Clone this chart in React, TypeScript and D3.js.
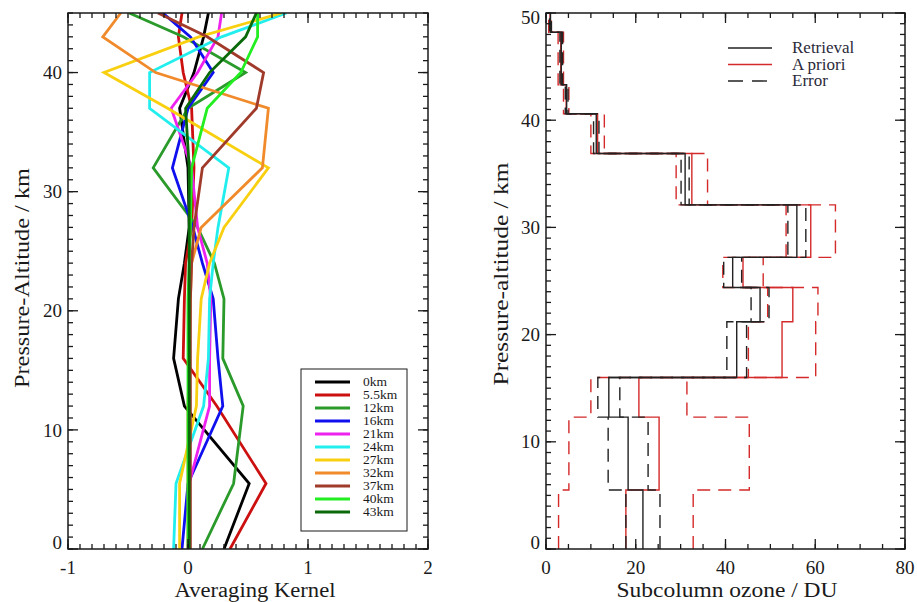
import React from "react";
import * as d3 from "d3";

// ---------- Left panel: averaging kernels ----------
const akLevels = [0, 5.5, 12, 16, 21, 24, 27, 32, 37, 40, 43, 45];
const ak0km = [0.30, 0.51, -0.03, -0.12, -0.08, -0.03, 0.01, 0.0, -0.07, 0.05, 0.13, 0.17];
const ak5km = [0.35, 0.65, 0.24, -0.04, -0.03, -0.02, 0.03, 0.05, 0.03, -0.04, -0.08, -0.05];
const ak12km = [0.12, 0.38, 0.46, 0.29, 0.30, 0.22, 0.08, -0.29, 0.0, 0.48, -0.04, -0.49];
const ak16km = [-0.05, 0.0, 0.29, 0.25, 0.21, 0.12, 0.04, -0.13, 0.0, 0.21, 0.02, -0.21];
const ak21km = [0.0, 0.01, 0.18, 0.18, 0.19, 0.16, 0.08, 0.03, -0.14, 0.08, 0.25, 0.28];
const ak24km = [-0.12, -0.10, 0.13, 0.17, 0.18, 0.21, 0.25, 0.34, -0.32, -0.32, 0.28, 0.82];
const ak27km = [-0.07, -0.07, 0.07, 0.08, 0.11, 0.18, 0.30, 0.67, -0.17, -0.70, 0.09, 0.78];
const ak32km = [0.0, 0.0, 0.0, 0.01, 0.02, 0.03, 0.11, 0.62, 0.67, -0.27, -0.71, -0.56];
const ak37km = [0.02, 0.02, 0.02, 0.02, 0.02, 0.03, 0.05, 0.12, 0.57, 0.63, 0.16, -0.25];
const ak40km = [0.0, 0.0, 0.0, 0.0, 0.0, 0.01, 0.02, 0.03, 0.16, 0.44, 0.58, 0.58];
const ak43km = [0.01, 0.01, 0.01, 0.01, 0.01, 0.01, 0.01, 0.01, -0.02, 0.18, 0.48, 0.57];

const akNames = ["0km", "5.5km", "12km", "16km", "21km", "24km", "27km", "32km", "37km", "40km", "43km"];
const akColors = ["#000000", "#cc1010", "#2a9a2a", "#1010ee", "#ee22ee", "#22eeee", "#f8d010", "#f08a2a", "#a03a2a", "#22ee22", "#0a6a0a"];
const akValues = [ak0km, ak5km, ak12km, ak16km, ak21km, ak24km, ak27km, ak32km, ak37km, ak40km, ak43km];

const akXTicks = [-1, 0, 1, 2];
const akYTicks = [0, 10, 20, 30, 40];

// ---------- Right panel: subcolumn ozone ----------
const layerEdges = [0, 5.5, 12.3, 16.0, 21.2, 24.4, 27.2, 32.1, 36.9, 40.6, 43.3, 48.2, 52];
const retrieval = [21.6, 18.3, 14.0, 42.5, 47.7, 41.6, 55.9, 31.0, 11.2, 4.6, 3.4, 1.0];
const apriori = [17.8, 25.2, 20.7, 52.6, 55.0, 43.9, 59.0, 32.5, 11.5, 4.5, 3.3, 0.9];
const retrievalErr = [3.8, 4.45, 2.45, 2.2, 2.0, 2.0, 2.0, 0.9, 0.6, 0.3, 0.3, 0.2];
const aprioriErr = [15.0, 20.1, 10.7, 7.5, 5.6, 4.5, 5.5, 3.5, 1.5, 0.6, 0.6, 0.3];

const ozXTicks = [0, 20, 40, 60, 80];
const ozYTicks = [0, 10, 20, 30, 40, 50];

const FONT = "'Liberation Serif', 'Times New Roman', serif";
const AX = "#1a1a1a";

const L = { x0: 68, x1: 428, y0: 13, y1: 549 };
const R = { x0: 546, x1: 905, y0: 13, y1: 549 };

export default function App() {
  const xL = d3.scaleLinear().domain([-1, 2]).range([L.x0, L.x1]);
  const yL = d3.scaleLinear().domain([0, 45]).range([L.y1, L.y0]);
  const xR = d3.scaleLinear().domain([0, 80]).range([R.x0, R.x1]);
  const yR = d3.scaleLinear().domain([0, 50]).range([R.y1, R.y0]);

  const akLine = d3
    .line<[number, number]>()
    .x((d) => xL(d[0]))
    .y((d) => yL(d[1]));

  const stepLine = d3
    .line<[number, number]>()
    .x((d) => xR(d[0]))
    .y((d) => yR(d[1]));

  const stepPts = (vals: number[]): [number, number][] => {
    const pts: [number, number][] = [];
    vals.forEach((v, i) => {
      pts.push([v, layerEdges[i]]);
      pts.push([v, layerEdges[i + 1]]);
    });
    return pts;
  };

  const retLo = retrieval.map((v, i) => v - retrievalErr[i]);
  const retHi = retrieval.map((v, i) => v + retrievalErr[i]);
  const apLo = apriori.map((v, i) => v - aprioriErr[i]);
  const apHi = apriori.map((v, i) => v + aprioriErr[i]);

  const lMinorX = d3.range(-10, 21).map((i) => i / 10);
  const lMinorY = d3.range(0, 46);
  const rMinorX = d3.range(0, 81, 5);
  const rMinorY = d3.range(0, 51);

  const frame = (P: typeof L) => (
    <rect x={P.x0} y={P.y0} width={P.x1 - P.x0} height={P.y1 - P.y0} fill="none" stroke={AX} strokeWidth={1.5} />
  );

  const xTickMarks = (vals: number[], sx: (v: number) => number, P: typeof L, len: number, key: string) =>
    vals.map((v, i) => (
      <g key={key + i}>
        <line x1={sx(v)} x2={sx(v)} y1={P.y1} y2={P.y1 - len} stroke={AX} strokeWidth={1.3} />
        <line x1={sx(v)} x2={sx(v)} y1={P.y0} y2={P.y0 + len} stroke={AX} strokeWidth={1.3} />
      </g>
    ));
  const yTickMarks = (vals: number[], sy: (v: number) => number, P: typeof L, len: number, key: string) =>
    vals.map((v, i) => (
      <g key={key + i}>
        <line x1={P.x0} x2={P.x0 + len} y1={sy(v)} y2={sy(v)} stroke={AX} strokeWidth={1.3} />
        <line x1={P.x1} x2={P.x1 - len} y1={sy(v)} y2={sy(v)} stroke={AX} strokeWidth={1.3} />
      </g>
    ));

  const legendRowY = (i: number) => 382 + i * 13;

  return (
    <svg width={917} height={602} style={{ position: "absolute", left: 0, top: 0, background: "#fff" }} fontFamily={FONT}>
      <defs>
        <clipPath id="clipL">
          <rect x={L.x0} y={L.y0} width={L.x1 - L.x0} height={L.y1 - L.y0} />
        </clipPath>
        <clipPath id="clipR">
          <rect x={R.x0} y={R.y0} width={R.x1 - R.x0} height={R.y1 - R.y0} />
        </clipPath>
      </defs>
      <rect x={0} y={0} width={917} height={602} fill="#fff" />

      {/* ---------- LEFT PANEL ---------- */}
      <g clipPath="url(#clipL)">
        {akValues.map((vals, si) => (
          <path
            key={akNames[si]}
            d={akLine(vals.map((v, i) => [v, akLevels[i]] as [number, number])) || ""}
            fill="none"
            stroke={akColors[si]}
            strokeWidth={2.8}
            strokeLinejoin="miter"
          />
        ))}
      </g>
      {frame(L)}
      {xTickMarks(lMinorX, xL, L, 5, "lmx")}
      {xTickMarks(akXTicks, xL, L, 10, "lMx")}
      {yTickMarks(lMinorY, yL, L, 5, "lmy")}
      {yTickMarks(akYTicks, yL, L, 10, "lMy")}
      {akXTicks.map((v) => (
        <text key={"lxl" + v} x={xL(v)} y={574} textAnchor="middle" fontSize={19} fill={AX}>
          {v}
        </text>
      ))}
      {akYTicks.map((v) => (
        <text key={"lyl" + v} x={62} y={yL(v) + (v === 0 ? -7 : 0)} dy="0.35em" textAnchor="end" fontSize={19} fill={AX}>
          {v}
        </text>
      ))}
      <text x={(L.x0 + L.x1) / 2 + 7} y={597} textAnchor="middle" fontSize={20} fill={AX} textLength={161} lengthAdjust="spacingAndGlyphs">
        Averaging Kernel
      </text>
      <text
        transform={`translate(29,278) rotate(-90)`}
        textAnchor="middle"
        fontSize={20}
        fill={AX}
        textLength={220}
        lengthAdjust="spacingAndGlyphs"
      >
        Pressure-Altitude / km
      </text>

      {/* legend */}
      <rect x={301} y={369} width={106} height={162} fill="#fff" stroke={AX} strokeWidth={1} />
      {akNames.map((n, i) => (
        <g key={"lg" + n}>
          <line x1={315} x2={350} y1={legendRowY(i)} y2={legendRowY(i)} stroke={akColors[i]} strokeWidth={3} />
          <text x={363} y={legendRowY(i)} dy="0.33em" fontSize={13.5} fill={AX}>
            {n}
          </text>
        </g>
      ))}

      {/* ---------- RIGHT PANEL ---------- */}
      <g clipPath="url(#clipR)" fill="none">
        <path d={stepLine(stepPts(apLo)) || ""} stroke="#d42a2a" strokeWidth={1.4} strokeDasharray="13,8" />
        <path d={stepLine(stepPts(apHi)) || ""} stroke="#d42a2a" strokeWidth={1.4} strokeDasharray="13,8" />
        <path d={stepLine(stepPts(apriori)) || ""} stroke="#d42a2a" strokeWidth={1.4} />
        <path d={stepLine(stepPts(retLo)) || ""} stroke="#222" strokeWidth={1.4} strokeDasharray="13,8" />
        <path d={stepLine(stepPts(retHi)) || ""} stroke="#222" strokeWidth={1.4} strokeDasharray="13,8" />
        <path d={stepLine(stepPts(retrieval)) || ""} stroke="#222" strokeWidth={1.4} />
      </g>
      {frame(R)}
      {xTickMarks(rMinorX, xR, R, 5, "rmx")}
      {xTickMarks(ozXTicks, xR, R, 10, "rMx")}
      {yTickMarks(rMinorY, yR, R, 5, "rmy")}
      {yTickMarks(ozYTicks, yR, R, 10, "rMy")}
      {ozXTicks.map((v) => (
        <text key={"rxl" + v} x={xR(v)} y={574} textAnchor="middle" fontSize={19} fill={AX}>
          {v}
        </text>
      ))}
      {ozYTicks.map((v) => (
        <text
          key={"ryl" + v}
          x={540}
          y={yR(v) + (v === 0 ? -7 : v === 50 ? 4 : 0)}
          dy="0.35em"
          textAnchor="end"
          fontSize={19}
          fill={AX}
        >
          {v}
        </text>
      ))}
      <text x={727} y={597} textAnchor="middle" fontSize={20} fill={AX} textLength={221} lengthAdjust="spacingAndGlyphs">
        Subcolumn ozone / DU
      </text>
      <text
        transform={`translate(508,274) rotate(-90)`}
        textAnchor="middle"
        fontSize={20}
        fill={AX}
        textLength={223}
        lengthAdjust="spacingAndGlyphs"
      >
        Pressure-altitude / km
      </text>

      {/* right legend */}
      <line x1={728} x2={772} y1={48} y2={48} stroke="#222" strokeWidth={1.4} />
      <line x1={728} x2={772} y1={64.5} y2={64.5} stroke="#d42a2a" strokeWidth={1.4} />
      <line x1={728} x2={772} y1={81} y2={81} stroke="#222" strokeWidth={1.4} strokeDasharray="15,9" />
      <text x={792} y={53} fontSize={17} fill="#2a2a3a">Retrieval</text>
      <text x={792} y={69.5} fontSize={17} fill="#2a2a3a">A priori</text>
      <text x={792} y={86} fontSize={17} fill="#2a2a3a">Error</text>
    </svg>
  );
}
